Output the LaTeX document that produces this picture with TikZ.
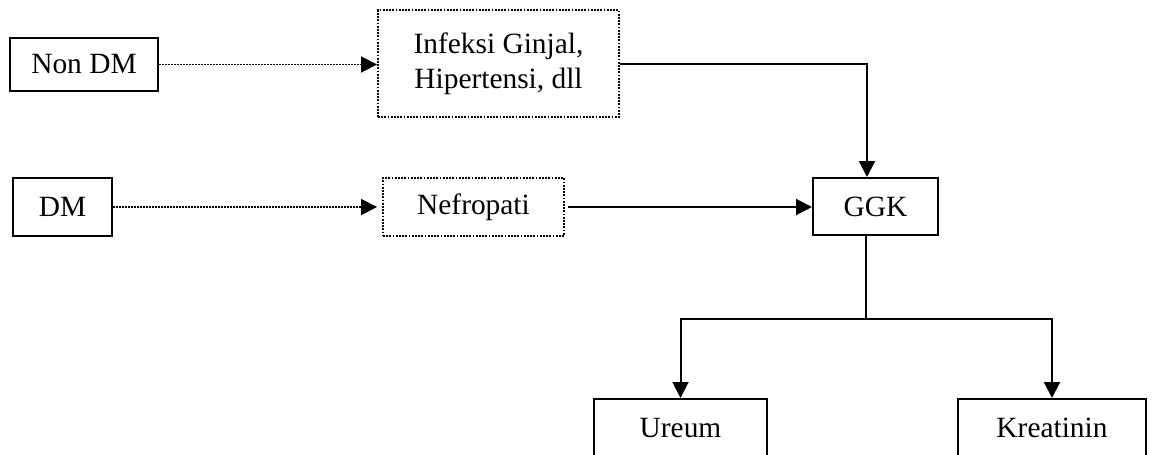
\documentclass[tikz,border=0pt]{standalone}
\usepackage{fontspec}
\setmainfont{Liberation Serif}
\usetikzlibrary{arrows.meta}
\tikzset{
  solidbox/.style={draw, line width=1pt, inner sep=0pt, align=center, font=\fontsize{14.7}{17.5}\selectfont},
  dotbox/.style={draw, line width=0.9pt, dash pattern=on 0.9pt off 0.7pt, inner sep=0pt, align=center, font=\fontsize{14.7}{17.5}\selectfont},
  solidarrow/.style={line width=1pt, -{Triangle[length=8pt,width=8pt]}},
  dotarrow/.style={line width=0.8pt, dash pattern=on 0.8pt off 0.7pt, -{Triangle[length=8pt,width=8pt]}},
  plainline/.style={line width=1pt}
}
\begin{document}
\begin{tikzpicture}[x=0.5pt,y=-0.5pt]
\useasboundingbox (0,0) rectangle (1153,455);
\clip (0,0) rectangle (1153,455);
\node[solidbox, minimum width=74pt, minimum height=26.5pt] (nondm) at (84,64.5) {Non DM};
\node[dotbox, minimum width=120.5pt, minimum height=53.5pt] (inf) at (498.5,63.5) {Infeksi Ginjal,\\Hipertensi, dll};
\node[solidbox, minimum width=49.5pt, minimum height=29pt] (dm) at (62.5,207) {DM};
\node[dotbox, minimum width=90.5pt, minimum height=29pt] (nef) at (473.5,207) {Nefropati};
\node[solidbox, minimum width=62.5pt, minimum height=28.5pt] (ggk) at (875.5,206.5) {GGK};
\node[solidbox, minimum width=86.5pt, minimum height=29pt] (ureum) at (680.5,428) {Ureum};
\node[solidbox, minimum width=94pt, minimum height=29pt] (kreat) at (1052,428) {Kreatinin};
\coordinate (split) at (866,319);
\draw[dotarrow] (nondm.east) -- (nondm.east -| inf.west);
\draw[dotarrow, shorten >=2.5pt] (dm.east) -- (dm.east -| nef.west);
\draw[solidarrow, shorten <=1.5pt] (nef.east) -- (nef.east -| ggk.west);
\draw[solidarrow] (inf.east) -| ([xshift=-4.25pt]ggk.north);
\draw[plainline] (ggk.south -| split) -- (split);
\draw[solidarrow] (split) -| (ureum.north);
\draw[solidarrow] (split) -| (kreat.north);
\end{tikzpicture}
\end{document}
